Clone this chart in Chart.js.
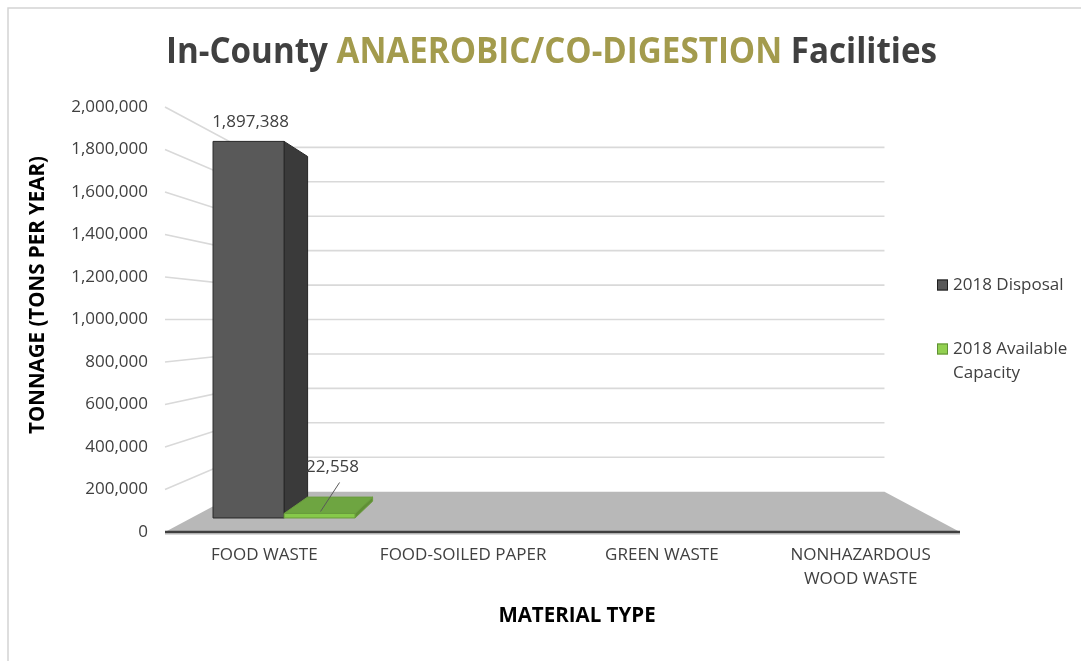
<!DOCTYPE html>
<html><head><meta charset="utf-8">
<script src="https://cdn.jsdelivr.net/npm/chart.js@4.4.1/dist/chart.umd.min.js"></script>
<style>html,body{margin:0;padding:0;background:#fff;overflow:hidden}canvas{display:block}</style>
</head><body>
<canvas id="c" width="1081" height="661"></canvas>
<script>
// ---------- DATA ----------
const categories = ['FOOD WASTE', 'FOOD-SOILED PAPER', 'GREEN WASTE', ['NONHAZARDOUS', 'WOOD WASTE']];
const seriesNames = ['2018 Disposal', '2018 Available Capacity'];
const disposal2018 = [1897388, null, null, null];
const availableCapacity2018 = [22558, null, null, null];
const yTickValues = [0, 200000, 400000, 600000, 800000, 1000000, 1200000, 1400000, 1600000, 1800000, 2000000];
const titleParts = ['In-County ', 'ANAEROBIC/CO-DIGESTION', ' Facilities'];
const xAxisTitle = 'MATERIAL TYPE';
const yAxisTitle = 'TONNAGE (TONS PER YEAR)';

// ---------- STYLE ----------
const FONT = '"Open Sans", "DejaVu Sans", sans-serif';
const TEXT = '#404040';
const VIEW = { backScale: 0.81, barFront: 0.934, barBack: 0.855 };
const SERIES_STYLE = [
  { front: '#595959', side: '#3a3a3a', top: '#4a4a4a', edge: '#262626', legend: '#595959', legendEdge: '#1f1f1f',
    label: { dx: 2, dy: -19, leader: false } },
  { front: '#86c94a', side: '#5f8f35', top: '#6ea541', edge: '#6a9c3d', legend: '#92d050', legendEdge: '#5f8f35',
    label: { dx: 13, dy: -46, leader: true } }
];
const TITLE_COLORS = ['#404040', '#A39B4D', '#404040'];
const TITLE_BOX = { cx: 551.5, baseline: 63, width: 771, size: 35 };
const LEGEND = { x: 937, box: 11, textX: 953, items: [285, 349], lineH: 24, wrap: 130, size: 17 };

const fmt = v => Number(v).toLocaleString('en-US');

const perspective3D = {
  id: 'perspective3D',
  beforeDraw(chart) {
    const ctx = chart.ctx;
    ctx.save();
    ctx.fillStyle = '#fff';
    ctx.fillRect(0, 0, chart.width, chart.height);
    ctx.strokeStyle = '#d4d4d4';
    ctx.lineWidth = 1.5;
    ctx.beginPath();
    ctx.moveTo(8, chart.height + 2); ctx.lineTo(8, 8); ctx.lineTo(chart.width + 2, 8);
    ctx.stroke();
    ctx.restore();
  },
  beforeDatasetsDraw(chart) {
    const { ctx, chartArea: a, scales: { y } } = chart;
    const vx = (a.left + a.right) / 2, vy = (a.top + a.bottom) / 2;
    const P = (px, py, s) => [vx + (px - vx) * s, vy + (py - vy) * s];
    const sb = VIEW.backScale;
    const poly = (pts, fill, stroke, lw) => {
      ctx.beginPath();
      pts.forEach((p, i) => i ? ctx.lineTo(p[0], p[1]) : ctx.moveTo(p[0], p[1]));
      ctx.closePath();
      if (fill) { ctx.fillStyle = fill; ctx.fill(); }
      if (stroke) { ctx.strokeStyle = stroke; ctx.lineWidth = lw || 1; ctx.stroke(); }
    };
    ctx.save();
    // walls gridlines
    ctx.strokeStyle = '#d9d9d9';
    ctx.lineWidth = 1.6;
    y.ticks.forEach(t => {
      if (t.value === 0) return;
      const py = y.getPixelForValue(t.value);
      const f = P(a.left, py, 1), b1 = P(a.left, py, sb), b2 = P(a.right, py, sb);
      ctx.beginPath();
      ctx.moveTo(f[0], f[1]); ctx.lineTo(b1[0], b1[1]); ctx.lineTo(b2[0], b2[1]);
      ctx.stroke();
    });
    // floor
    const y0 = y.getPixelForValue(0);
    poly([P(a.left, y0, 1), P(a.right, y0, 1), P(a.right, y0, sb), P(a.left, y0, sb)], '#b8b8b8');
    // front edge of floor
    ctx.strokeStyle = 'rgba(0,0,0,0.15)';
    ctx.lineWidth = 2;
    ctx.beginPath(); ctx.moveTo(a.left, y0 + 2); ctx.lineTo(a.right, y0 + 2); ctx.stroke();
    ctx.strokeStyle = '#3f3f3f';
    ctx.lineWidth = 2.5;
    ctx.beginPath(); ctx.moveTo(a.left, y0); ctx.lineTo(a.right, y0); ctx.stroke();

    // bars (painter's order: farthest from vanishing x first)
    const bars = [];
    chart.data.datasets.forEach((ds, di) => {
      const meta = chart.getDatasetMeta(di);
      meta.data.forEach((el, i) => {
        const v = ds.data[i];
        if (v == null || v === 0) return;
        bars.push({ el, di, v });
      });
    });
    bars.sort((p, q) => Math.abs(q.el.x - vx) - Math.abs(p.el.x - vx));
    const s1 = VIEW.barFront, s2 = VIEW.barBack;
    bars.forEach(({ el, di }) => {
      const st = SERIES_STYLE[di];
      const xl = el.x - el.width / 2, xr = el.x + el.width / 2, yt = el.y, yb = el.base;
      const f = [P(xl, yt, s1), P(xr, yt, s1), P(xr, yb, s1), P(xl, yb, s1)];
      const b = [P(xl, yt, s2), P(xr, yt, s2), P(xr, yb, s2), P(xl, yb, s2)];
      if (xr < vx) poly([f[1], b[1], b[2], f[2]], st.side, st.edge, 1);
      if (xl > vx) poly([f[0], b[0], b[3], f[3]], st.side, st.edge, 1);
      if (yt > vy) poly([f[0], f[1], b[1], b[0]], st.top, st.edge, 1);
      poly(f, st.front, st.edge, 1);
    });
    // data labels
    ctx.font = '17px ' + FONT;
    ctx.fillStyle = TEXT;
    ctx.textAlign = 'center';
    ctx.textBaseline = 'middle';
    bars.forEach(({ el, di, v }) => {
      const st = SERIES_STYLE[di].label;
      const xl = el.x - el.width / 2, xr = el.x + el.width / 2;
      const tl = P(xl, el.y, s1), tr = P(xr, el.y, s1);
      const cx = (tl[0] + tr[0]) / 2, cy = tl[1];
      const lx = cx + st.dx, ly = cy + st.dy;
      ctx.fillText(fmt(v), lx, ly);
      if (st.leader) {
        ctx.strokeStyle = '#595959';
        ctx.lineWidth = 1;
        ctx.beginPath(); ctx.moveTo(lx + 7, ly + 15); ctx.lineTo(cx + 1, cy - 2); ctx.stroke();
      }
    });
    ctx.restore();
    return false;
  },
  afterDraw(chart) {
    const ctx = chart.ctx;
    ctx.save();
    // title
    ctx.font = 'bold ' + TITLE_BOX.size + 'px ' + FONT;
    const widths = titleParts.map(t => ctx.measureText(t).width);
    const total = widths.reduce((p, q) => p + q, 0);
    const sx = TITLE_BOX.width / total;
    ctx.translate(TITLE_BOX.cx - TITLE_BOX.width / 2, TITLE_BOX.baseline);
    ctx.scale(sx, 1);
    ctx.textBaseline = 'alphabetic';
    ctx.textAlign = 'left';
    let x = 0;
    titleParts.forEach((t, i) => { ctx.fillStyle = TITLE_COLORS[i]; ctx.fillText(t, x, 0); x += widths[i]; });
    ctx.restore();

    // axis titles
    ctx.save();
    ctx.fillStyle = '#000';
    ctx.font = 'bold 20.5px ' + FONT;
    ctx.textAlign = 'center';
    ctx.textBaseline = 'middle';
    ctx.fillText(xAxisTitle, 577, 616);
    ctx.translate(38, 295);
    ctx.rotate(-Math.PI / 2);
    ctx.fillText(yAxisTitle, 0, 0);
    ctx.restore();

    // legend
    ctx.save();
    ctx.font = LEGEND.size + 'px ' + FONT;
    ctx.textBaseline = 'middle';
    ctx.textAlign = 'left';
    chart.data.datasets.forEach((ds, i) => {
      const st = SERIES_STYLE[i];
      const cy = LEGEND.items[i];
      ctx.fillStyle = st.legend;
      ctx.fillRect(LEGEND.x, cy - LEGEND.box / 2, LEGEND.box, LEGEND.box);
      ctx.strokeStyle = st.legendEdge;
      ctx.lineWidth = 1;
      ctx.strokeRect(LEGEND.x + 0.5, cy - LEGEND.box / 2 + 0.5, LEGEND.box - 1, LEGEND.box - 1);
      const words = ds.label.split(' ');
      const lines = [];
      let cur = '';
      words.forEach(w => {
        const t = cur ? cur + ' ' + w : w;
        if (cur && ctx.measureText(t).width > LEGEND.wrap) { lines.push(cur); cur = w; } else cur = t;
      });
      if (cur) lines.push(cur);
      ctx.fillStyle = TEXT;
      lines.forEach((ln, k) => ctx.fillText(ln, LEGEND.textX, cy + k * LEGEND.lineH));
    });
    ctx.restore();
  }
};

new Chart(document.getElementById('c'), {
  type: 'bar',
  data: {
    labels: categories,
    datasets: [
      { label: seriesNames[0], data: disposal2018, backgroundColor: SERIES_STYLE[0].front },
      { label: seriesNames[1], data: availableCapacity2018, backgroundColor: SERIES_STYLE[1].front }
    ]
  },
  options: {
    responsive: false,
    animation: false,
    devicePixelRatio: 1,
    categoryPercentage: 0.765,
    barPercentage: 1.0,
    layout: { padding: { top: 107, right: 121, left: 0, bottom: 0 } },
    plugins: { legend: { display: false }, title: { display: false }, tooltip: { enabled: false } },
    scales: {
      x: {
        grid: { display: false, drawTicks: false },
        border: { display: false },
        ticks: { padding: 12, color: TEXT, font: { family: FONT, size: 17, lineHeight: 1.37 }, maxRotation: 0, autoSkip: false },
        afterFit(s) { s.height = 129; }
      },
      y: {
        min: 0, max: 2000000,
        grid: { display: false, drawTicks: false },
        border: { display: false },
        afterBuildTicks(s) { s.ticks = yTickValues.map(v => ({ value: v })); },
        ticks: { padding: 17, color: TEXT, font: { family: FONT, size: 17 }, callback: v => fmt(v) },
        afterFit(s) { s.width = 165; }
      }
    }
  },
  plugins: [perspective3D]
});
</script>
</body></html>
